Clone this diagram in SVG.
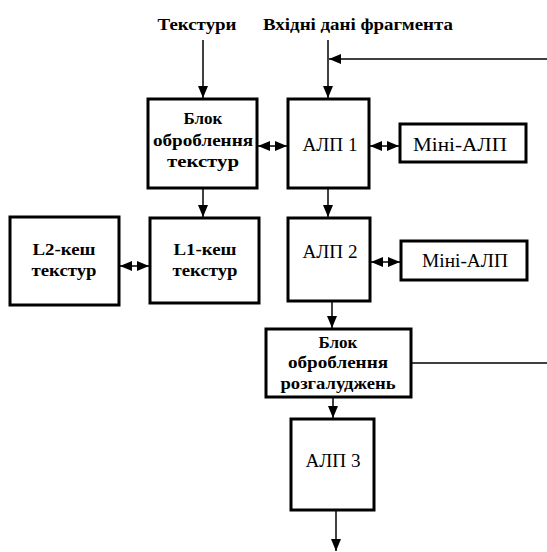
<svg xmlns="http://www.w3.org/2000/svg" width="547" height="552" viewBox="0 0 547 552" font-family="'Liberation Serif', 'DejaVu Serif', serif">
<style>
.box{fill:#fff;stroke:#000;stroke-width:3}
.ln{fill:none;stroke:#000;stroke-width:1.5}
.t{font-family:'Liberation Serif','DejaVu Serif',serif;font-size:17px;fill:#000;text-anchor:middle}
.r{font-size:19px}
.b{font-weight:bold}
</style>
<defs>
<marker id="ah" markerUnits="userSpaceOnUse" markerWidth="12" markerHeight="10" refX="12" refY="5" orient="auto-start-reverse" viewBox="0 0 12 10">
<path d="M0,0 L12,5 L0,10 z" fill="#000"/>
</marker>
</defs>
<rect width="547" height="552" fill="#fff"/>
<g id="connectors">
<path class="ln" d="M203,40 V98" marker-end="url(#ah)"/>
<path class="ln" d="M328,40 V98" marker-end="url(#ah)"/>
<path class="ln" d="M547,59 H329" marker-end="url(#ah)"/>
<path class="ln" d="M258,146 H287" marker-start="url(#ah)" marker-end="url(#ah)"/>
<path class="ln" d="M370,146 H399" marker-start="url(#ah)" marker-end="url(#ah)"/>
<path class="ln" d="M203,189 V217" marker-end="url(#ah)"/>
<path class="ln" d="M328,189 V217" marker-end="url(#ah)"/>
<path class="ln" d="M120,266 H149" marker-start="url(#ah)" marker-end="url(#ah)"/>
<path class="ln" d="M371,262 H400" marker-start="url(#ah)" marker-end="url(#ah)"/>
<path class="ln" d="M332,302 V328" marker-end="url(#ah)"/>
<path class="ln" d="M412,363 H547"/>
<path class="ln" d="M333,398 V418" marker-end="url(#ah)"/>
<path class="ln" d="M336,511 V551" marker-end="url(#ah)"/>
</g>
<g id="lbl-textures"><text class="t b" x="197" y="30" textLength="79" lengthAdjust="spacingAndGlyphs">Текстури</text></g>
<g id="lbl-input"><text class="t b" x="358" y="30" textLength="190" lengthAdjust="spacingAndGlyphs">Вхідні дані фрагмента</text></g>
<g id="tex-unit">
<rect class="box" x="148" y="99" width="109" height="89"/>
<text class="t b" x="203" y="124">Блок</text>
<text class="t b" x="203" y="146" textLength="100" lengthAdjust="spacingAndGlyphs">оброблення</text>
<text class="t b" x="203" y="167" textLength="72" lengthAdjust="spacingAndGlyphs">текстур</text>
</g>
<g id="alu1">
<rect class="box" x="288" y="99" width="81" height="89"/>
<text class="t r" x="330" y="151" textLength="55" lengthAdjust="spacingAndGlyphs">АЛП 1</text>
</g>
<g id="mini1">
<rect class="box" x="400" y="124" width="126" height="38"/>
<text class="t r" x="460" y="151" textLength="94" lengthAdjust="spacingAndGlyphs">Міні-АЛП</text>
</g>
<g id="l2">
<rect class="box" x="10" y="217" width="109" height="88"/>
<text class="t b" x="64" y="255" textLength="63" lengthAdjust="spacingAndGlyphs">L2-кеш</text>
<text class="t b" x="64" y="276" textLength="65" lengthAdjust="spacingAndGlyphs">текстур</text>
</g>
<g id="l1">
<rect class="box" x="150" y="218" width="109" height="85"/>
<text class="t b" x="205" y="255" textLength="63" lengthAdjust="spacingAndGlyphs">L1-кеш</text>
<text class="t b" x="205" y="276" textLength="65" lengthAdjust="spacingAndGlyphs">текстур</text>
</g>
<g id="alu2">
<rect class="box" x="288" y="218" width="82" height="83"/>
<text class="t r" x="330" y="258" textLength="55" lengthAdjust="spacingAndGlyphs">АЛП 2</text>
</g>
<g id="mini2">
<rect class="box" x="401" y="241" width="126" height="39"/>
<text class="t r" x="465" y="267" textLength="86" lengthAdjust="spacingAndGlyphs">Міні-АЛП</text>
</g>
<g id="branch">
<rect class="box" x="266" y="329" width="145" height="68"/>
<text class="t b" x="338" y="348">Блок</text>
<text class="t b" x="338" y="368" textLength="100" lengthAdjust="spacingAndGlyphs">оброблення</text>
<text class="t b" x="338" y="389" textLength="115" lengthAdjust="spacingAndGlyphs">розгалуджень</text>
</g>
<g id="alu3">
<rect class="box" x="291" y="419" width="83" height="91"/>
<text class="t r" x="333" y="467" textLength="55" lengthAdjust="spacingAndGlyphs">АЛП 3</text>
</g>
</svg>
